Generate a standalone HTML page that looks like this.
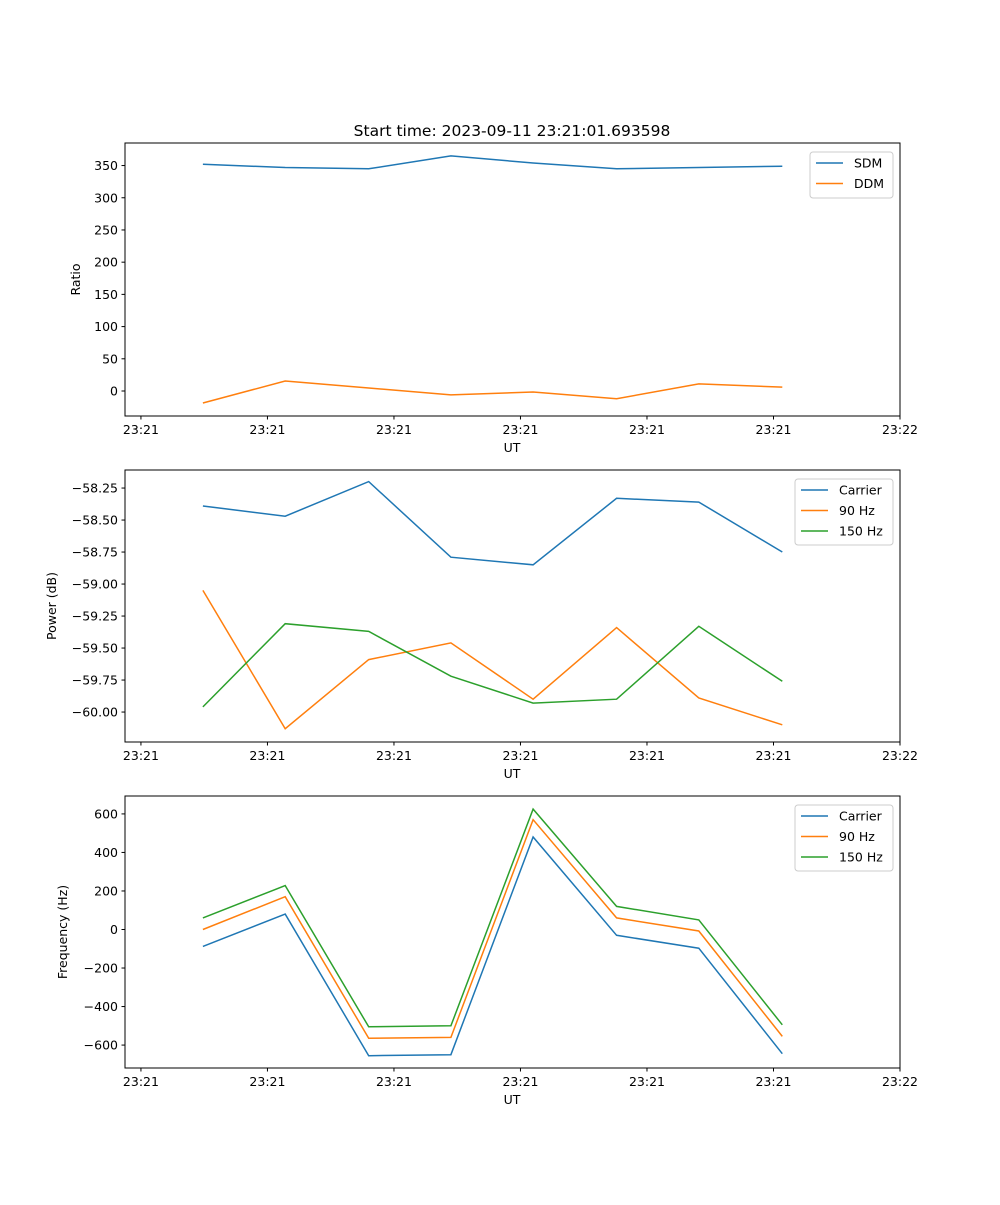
<!DOCTYPE html>
<html><head><meta charset="utf-8"><style>
body{margin:0;background:#fff}
svg{font-family:"DejaVu Sans","Liberation Sans",sans-serif}
</style></head><body>
<svg id="fig" width="1000" height="1200" xmlns="http://www.w3.org/2000/svg">
<rect width="1000" height="1200" fill="#fff"/>
<text x="512" y="136" font-size="15.5" text-anchor="middle">Start time: 2023-09-11 23:21:01.693598</text>
</svg>
<script>
const times=[4.9,11.4,18.0,24.5,31.0,37.6,44.1,50.7];
const xTickVals=[0,10,20,30,40,50,60];
const xTickLabels=["23:21","23:21","23:21","23:21","23:21","23:21","23:22"];
const sdm=[352,347,345,365,354,345,347,349];
const ddm=[-18.6,15.5,4.6,-6,-1.5,-12,11,6];
const pCarrier=[-58.39,-58.47,-58.20,-58.79,-58.85,-58.33,-58.36,-58.75];
const p90=[-59.05,-60.13,-59.59,-59.46,-59.90,-59.34,-59.89,-60.10];
const p150=[-59.96,-59.31,-59.37,-59.72,-59.93,-59.90,-59.33,-59.76];
const fCarrier=[-88,80,-655,-650,480,-30,-97,-645];
const f90=[0,170,-565,-560,570,60,-8,-555];
const f150=[60,228,-505,-500,625,120,50,-495];
const ratioTicks=[0,50,100,150,200,250,300,350];
const powerTicks=[-60.00,-59.75,-59.50,-59.25,-59.00,-58.75,-58.50,-58.25];
const freqTicks=[-600,-400,-200,0,200,400,600];
const C=["#1f77b4","#ff7f0e","#2ca02c"];
const NS="http://www.w3.org/2000/svg";
const svg=document.getElementById("fig");
function mk(tag,attrs,parent){const e=document.createElementNS(NS,tag);for(const k in attrs)e.setAttribute(k,attrs[k]);(parent||svg).appendChild(e);return e;}
const X0=125,X1=900,TMIN=-1.26,TMAX=60;
const xs=t=>X0+(t-TMIN)/(TMAX-TMIN)*(X1-X0);
function panel(name,top,bot,ymin,ymax,ticks,fmt,ylabel,series,legend){
  const g=mk("g",{});
  
  
  const ys=v=>bot-(v-ymin)/(ymax-ymin)*(bot-top);
  series.forEach((s,i)=>{
    const p=mk("polyline",{points:s.vals.map((v,j)=>xs(times[j]).toFixed(1)+","+ys(v).toFixed(1)).join(" "),fill:"none",stroke:C[i],"stroke-width":1.5},g);
    
    
  });
  const fr=mk("rect",{x:X0,y:top,width:X1-X0,height:bot-top,fill:"none",stroke:"#000","stroke-width":1},g);
  
  
  xTickVals.forEach((t,i)=>{
    const x=xs(t);
    mk("line",{x1:x,x2:x,y1:bot,y2:bot+3.5,stroke:"#000","stroke-width":1},g);
    const tx=mk("text",{x:x,y:bot+18,"font-size":12.5,"text-anchor":"middle"},g);
    tx.textContent=xTickLabels[i];
    
    
  });
  const xl=mk("text",{x:512,y:bot+36,"font-size":12.5,"text-anchor":"middle"},g);xl.textContent="UT";
  
  
  ticks.forEach(v=>{
    const y=ys(v);
    mk("line",{x1:X0-3.5,x2:X0,y1:y,y2:y,stroke:"#000","stroke-width":1},g);
    const tx=mk("text",{x:X0-7,y:y+4.5,"font-size":12.5,"text-anchor":"end"},g);
    tx.textContent=fmt(v);
    
    
  });
  const yl=mk("text",{x:0,y:0,"font-size":12.5,"text-anchor":"middle",transform:`translate(${legend.yl},${(top+bot)/2}) rotate(-90)`},g);
  yl.textContent=ylabel;
  
  
  const lg=mk("g",{},g);
  
  
  const h=series.length*20+6;
  mk("rect",{x:legend.x,y:top+9,width:893-legend.x,height:h,rx:3,fill:"#fff",stroke:"#ccc","stroke-width":1},lg);
  series.forEach((s,i)=>{
    const y=top+9+11+i*20.5;
    mk("line",{x1:legend.x+6,x2:legend.x+33,y1:y,y2:y,stroke:C[i],"stroke-width":1.5},lg);
    const t=mk("text",{x:legend.x+44,y:y+4.5,"font-size":12.5},lg);t.textContent=s.label;
    
    
  });
}
panel("ratio-panel",143,416,-38.8,385,ratioTicks,v=>String(v),"Ratio",
 [{key:"sdm",label:"SDM",vals:sdm},{key:"ddm",label:"DDM",vals:ddm}],{x:810,yl:80});
panel("power-panel",470,742,-60.234,-58.109,powerTicks,v=>"\u2212"+Math.abs(v).toFixed(2),"Power (dB)",
 [{key:"carrier",label:"Carrier",vals:pCarrier},{key:"90hz",label:"90 Hz",vals:p90},{key:"150hz",label:"150 Hz",vals:p150}],{x:795,yl:56});
panel("frequency-panel",796,1068,-719,693,freqTicks,v=>v<0?"\u2212"+Math.abs(v):String(v),"Frequency (Hz)",
 [{key:"carrier",label:"Carrier",vals:fCarrier},{key:"90hz",label:"90 Hz",vals:f90},{key:"150hz",label:"150 Hz",vals:f150}],{x:795,yl:67});
</script>
</body></html>
